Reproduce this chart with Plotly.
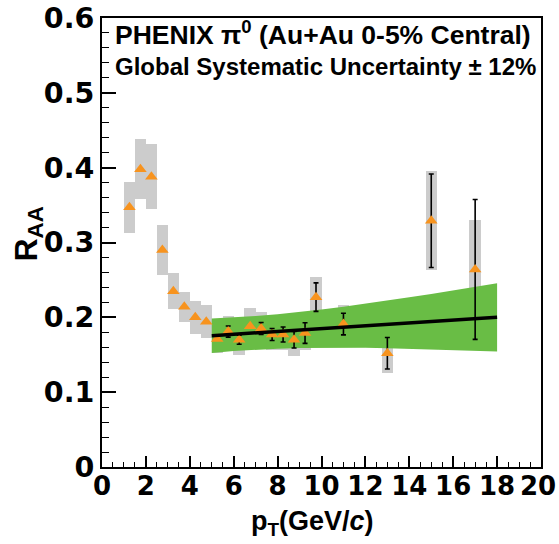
import plotly.graph_objects as go

# pi0 R_AA, Au+Au 0-5% central
pt = [1.25, 1.75, 2.25, 2.75, 3.25, 3.75, 4.25, 4.75, 5.25, 5.75, 6.25,
      6.75, 7.25, 7.75, 8.25, 8.75, 9.25, 9.75, 11.0, 13.0, 15.0, 17.0]
raa = [0.347, 0.398, 0.388, 0.290, 0.235, 0.214, 0.200, 0.194, 0.171, 0.181, 0.170,
       0.188, 0.185, 0.177, 0.177, 0.170, 0.179, 0.227, 0.191, 0.152, 0.329, 0.264]
stat = [0.0, 0.0, 0.0, 0.0, 0.0, 0.0, 0.0, 0.0, 0.0, 0.0075, 0.006,
        0.0, 0.008, 0.008, 0.010, 0.011, 0.0138, 0.019, 0.0145, 0.021, 0.0625, 0.0935]
sys_err = [0.034, 0.040, 0.043, 0.033, 0.024, 0.020, 0.022, 0.022, 0.019, 0.021, 0.020,
           0.024, 0.0225, 0.021, 0.021, 0.021, 0.022, 0.027, 0.0255, 0.026, 0.066, 0.066]

# linear fit above 5 GeV/c and its confidence band
fit_x = [5.0, 18.0]
fit_y = [0.1755, 0.2000]
band_x = [5, 6, 7, 8, 9, 10, 11, 12, 13, 14, 15, 16, 17, 18]
band_hi = [0.1985, 0.1999, 0.2018, 0.2041, 0.2070, 0.2104, 0.2141, 0.2181,
           0.2224, 0.2267, 0.2313, 0.2360, 0.2408, 0.2457]
band_lo = [0.1525, 0.1549, 0.1568, 0.1581, 0.1590, 0.1594, 0.1595, 0.1593,
           0.1588, 0.1581, 0.1573, 0.1564, 0.1554, 0.1543]

xticks = list(range(0, 21, 2))
yticks = [0, 0.1, 0.2, 0.3, 0.4, 0.5, 0.6]

BOLD = dict(family="Liberation Sans, Arial, sans-serif", color="black", weight="bold")
YTICKFONT = dict(family="DejaVu Sans, sans-serif", color="black", weight="bold", size=28.5)
XTICKFONT = dict(family="DejaVu Sans, sans-serif", color="black", weight="bold", size=26)

fig = go.Figure()

# systematic uncertainty boxes
fig.add_trace(go.Bar(
    x=pt,
    y=[2 * s for s in sys_err],
    base=[r - s for r, s in zip(raa, sys_err)],
    width=0.52,
    marker=dict(color="#cccccc", line=dict(width=0)),
    hoverinfo="skip",
    showlegend=False,
))

# fit band
fig.add_trace(go.Scatter(
    x=band_x + band_x[::-1],
    y=band_hi + band_lo[::-1],
    fill="toself",
    fillcolor="#69bd45",
    line=dict(width=0),
    mode="lines",
    hoverinfo="skip",
    showlegend=False,
))

# data points with statistical errors
fig.add_trace(go.Scatter(
    x=pt, y=raa,
    mode="markers",
    marker=dict(symbol="triangle-up", size=11, color="#f7931e", line=dict(width=0)),
    error_y=dict(type="data", array=stat, visible=True, color="black",
                 thickness=1.6, width=2.5),
    showlegend=False,
))

# fit line
fig.add_trace(go.Scatter(
    x=fit_x, y=fit_y,
    mode="lines",
    line=dict(color="black", width=3.5),
    showlegend=False,
))

axis_common = dict(
    showgrid=False, zeroline=False, automargin=False,
    showline=True, linecolor="black", linewidth=2, mirror=True,
    ticks="inside", tickcolor="black", tickwidth=1.5,
    ticklabeloverflow="allow",
)

# the last x label sits flush with the right page edge, so it is drawn separately
fig.update_xaxes(
    range=[0, 20], tickvals=xticks, ticktext=[str(v) for v in xticks[:-1]] + [""],
    ticklen=11, ticklabelstandoff=-5, tickfont=XTICKFONT,
    minor=dict(dtick=0.5, ticklen=5, ticks="inside", tickcolor="black", tickwidth=1.2),
    **axis_common,
)
fig.update_yaxes(
    range=[0, 0.6], tickvals=yticks, ticktext=["0", "0.1", "0.2", "0.3", "0.4", "0.5", "0.6"],
    ticklen=14, tickfont=YTICKFONT,
    minor=dict(dtick=0.02, ticklen=7, ticks="inside", tickcolor="black", tickwidth=1.2),
    **axis_common,
)
fig.add_annotation(
    text=str(xticks[-1]), xref="paper", yref="paper",
    x=1, xshift=17, y=0, yshift=-19, xanchor="right", yanchor="middle",
    showarrow=False, font=XTICKFONT,
)

fig.add_annotation(
    text="p<sub>T</sub>(GeV/<i>c</i>)", xref="paper", yref="paper",
    x=0.48, y=0, yshift=-56, xanchor="center", yanchor="middle",
    showarrow=False, font=dict(size=27, **BOLD),
)
fig.add_annotation(
    text="R<sub>AA</sub>", xref="paper", yref="paper",
    x=0, xshift=-74, y=0.5, yshift=8, yanchor="middle", xanchor="center",
    textangle=-90, showarrow=False, font=dict(size=32, **BOLD),
)
fig.add_annotation(
    text="PHENIX π<sup>0</sup> (Au+Au 0-5% Central)", xref="paper", yref="paper",
    x=0, xshift=11, y=1, yshift=-15, xanchor="left", yanchor="middle",
    showarrow=False, font=dict(size=26.5, **BOLD),
)
fig.add_annotation(
    text="Global Systematic Uncertainty ± 12%", xref="paper", yref="paper",
    x=0, xshift=11, y=1, yshift=-48, xanchor="left", yanchor="middle",
    showarrow=False, font=dict(size=24, **BOLD),
)

fig.update_layout(
    width=559, height=544,
    margin=dict(l=102, r=18, t=18, b=77),
    paper_bgcolor="white", plot_bgcolor="white",
    barmode="overlay", bargap=0,
    showlegend=False,
)

fig.write_html("out.html")
